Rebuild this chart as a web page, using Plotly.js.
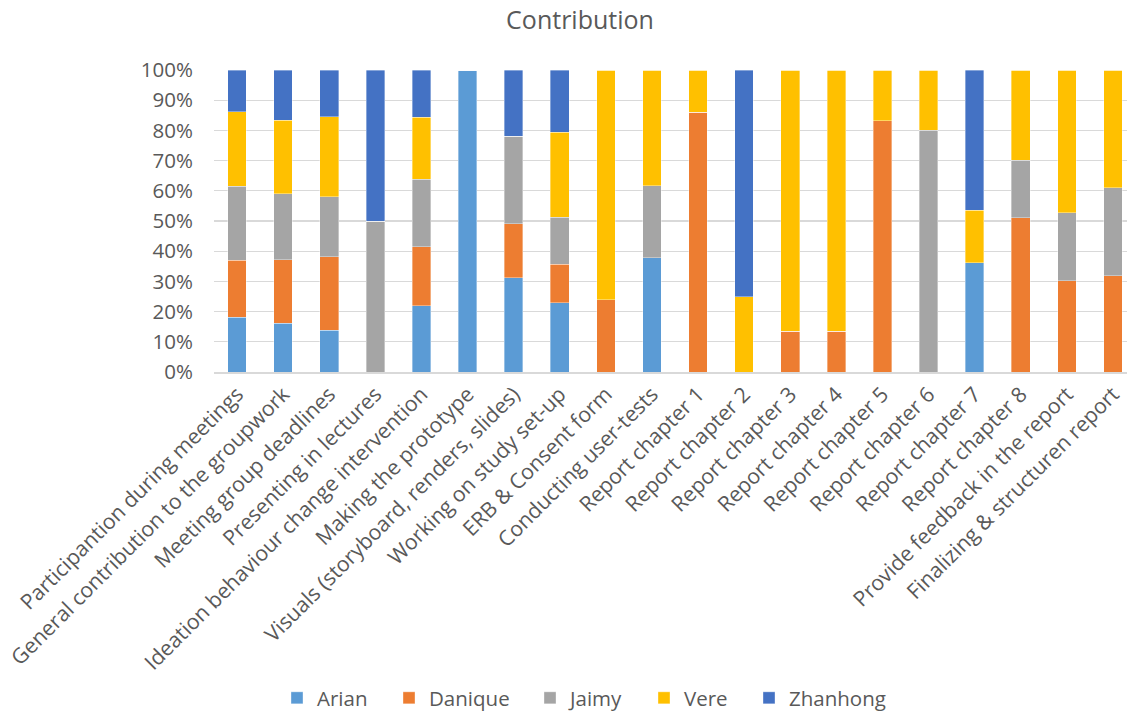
<!DOCTYPE html>
<html>
<head>
<meta charset="utf-8">
<script src="https://cdn.plot.ly/plotly-3.0.1.min.js"></script>
<style>
  html, body { margin: 0; padding: 0; overflow: hidden; background: #fff; }
  #chart { width: 1140px; height: 711px; }
</style>
</head>
<body>
<div id="chart"></div>
<script>
// Tasks (x-axis categories)
const tasks = [
  "Participantion during meetings",
  "General contribution to the groupwork",
  "Meeting group deadlines",
  "Presenting in lectures",
  "Ideation behaviour change intervention",
  "Making the prototype",
  "Visuals (storyboard, renders, slides)",
  "Working on study set-up",
  "ERB & Consent form",
  "Conducting user-tests",
  "Report chapter 1",
  "Report chapter 2",
  "Report chapter 3",
  "Report chapter 4",
  "Report chapter 5",
  "Report chapter 6",
  "Report chapter 7",
  "Report chapter 8",
  "Provide feedback in the report",
  "Finalizing & structuren report"
];

// Share of each task per team member (percent)
const arian    = [18.2, 16.2, 13.8, 0, 21.9, 100, 31.2, 23.0, 0, 37.9, 0, 0, 0, 0, 0, 0, 36.1, 0, 0, 0];
const danique  = [18.8, 21.0, 24.3, 0, 19.5, 0, 17.9, 12.6, 23.9, 0, 86.0, 0, 13.5, 13.5, 83.2, 0, 0, 51.0, 30.2, 31.8];
const jaimy    = [24.5, 21.9, 19.9, 50, 22.4, 0, 29.0, 15.7, 0, 23.8, 0, 0, 0, 0, 0, 80, 0, 19.1, 22.5, 29.2];
const vere     = [24.6, 24.2, 26.6, 0, 20.6, 0, 0, 28.1, 76.1, 38.3, 14.0, 25, 86.5, 86.5, 16.8, 20, 17.5, 29.9, 47.3, 39.0];
const zhanhong = [13.9, 16.7, 15.4, 50, 15.6, 0, 21.9, 20.6, 0, 0, 0, 75, 0, 0, 0, 0, 46.4, 0, 0, 0];

const members = ["Arian", "Danique", "Jaimy", "Vere", "Zhanhong"];
const seriesValues = [arian, danique, jaimy, vere, zhanhong];
const colors = ["#5B9BD5", "#ED7D31", "#A5A5A5", "#FFC000", "#4472C4"];

const textColor = "#595959";
const fontFamily = "'Open Sans', 'Noto Sans', sans-serif";
const fontSize = 20.5;

// Plot area geometry (pixels)
const plotLeft = 214, plotWidth = 922, figWidth = 1140, figHeight = 711;

// Left edge of each legend entry, in pixels
const legendLeft = [277, 389, 530, 644, 749];
const legendIds = ["legend", "legend2", "legend3", "legend4", "legend5"];

const traces = members.map((name, i) => ({
  type: "bar",
  name: name,
  x: tasks,
  y: seriesValues[i],
  legend: legendIds[i],
  marker: { color: colors[i], line: { color: "rgba(255,255,255,0.6)", width: 0.6 } },
  hoverinfo: "name+y"
}));

const layout = {
  width: figWidth,
  height: figHeight,
  barmode: "stack",
  barnorm: "percent",
  bargap: 0.595,
  paper_bgcolor: "#ffffff",
  plot_bgcolor: "#ffffff",
  margin: { l: plotLeft, r: figWidth - plotLeft - plotWidth, t: 70, b: 339 },
  font: { family: fontFamily, color: textColor, size: fontSize },
  title: {
    text: "Contribution",
    font: { family: fontFamily, size: 25, color: textColor },
    xref: "container", x: 580 / figWidth, xanchor: "center",
    yref: "container", y: 1 - 20 / figHeight, yanchor: "middle"
  },
  xaxis: {
    type: "category",
    tickangle: -45,
    tickfont: { size: 21.2, color: textColor },
    showgrid: false,
    showline: true,
    linecolor: "#D9D9D9",
    linewidth: 1.5,
    ticks: "",
    automargin: false
  },
  yaxis: {
    range: [0, 100],
    tickvals: [0, 10, 20, 30, 40, 50, 60, 70, 80, 90, 100],
    ticktext: ["0%", "10%", "20%", "30%", "40%", "50%", "60%", "70%", "80%", "90%", "100%"],
    tickfont: { size: fontSize, color: textColor },
    showgrid: true,
    gridcolor: "#D9D9D9",
    gridwidth: 1.3,
    zeroline: false,
    showline: false,
    ticks: "outside",
    ticklen: 16,
    tickcolor: "rgba(0,0,0,0)",
    automargin: false
  },
  showlegend: true
};

legendIds.forEach((id, i) => {
  layout[id] = {
    orientation: "h",
    xref: "paper", x: (legendLeft[i] - plotLeft) / plotWidth, xanchor: "left",
    yref: "container", y: 1 - 698 / figHeight, yanchor: "middle",
    font: { size: fontSize, color: textColor },
    bgcolor: "rgba(0,0,0,0)"
  };
});

Plotly.newPlot("chart", traces, layout, { displayModeBar: false, staticPlot: true });
</script>
</body>
</html>
